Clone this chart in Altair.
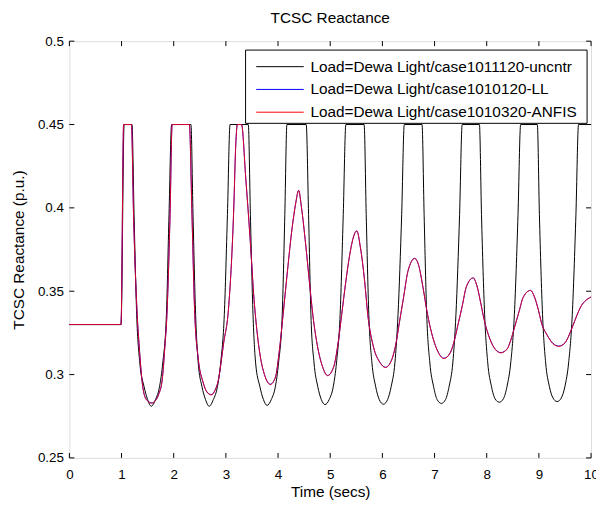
import altair as alt
import pandas as pd

# ---- data ----
series_names = [
    "Load=Dewa Light/case1011120-uncntr",
    "Load=Dewa Light/case1010120-LL",
    "Load=Dewa Light/case1010320-ANFIS",
]
series_colors = ["#000000", "#0000ff", "#ff0000"]

unc_t = [0, 0.99, 1.05, 1.20, 1.24, 1.29, 1.35, 1.43, 1.50, 1.57, 1.65, 1.73, 1.79, 1.86, 1.91, 1.96,
         2.33, 2.37, 2.42, 2.47, 2.54, 2.61, 2.68, 2.76, 2.84, 2.90, 2.97, 3.03, 3.08,
         3.43, 3.47, 3.52, 3.57, 3.65, 3.72, 3.79, 3.87, 3.95, 4.01, 4.08, 4.13, 4.17,
         4.54, 4.585, 4.63, 4.69, 4.76, 4.83, 4.90, 4.98, 5.06, 5.12, 5.19, 5.25, 5.30,
         5.65, 5.69, 5.74, 5.80, 5.87, 5.94, 6.02, 6.10, 6.17, 6.24, 6.30, 6.37, 6.42,
         6.76, 6.80, 6.85, 6.91, 6.98, 7.05, 7.13, 7.21, 7.28, 7.35, 7.41, 7.48, 7.53,
         7.86, 7.90, 7.96, 8.02, 8.09, 8.16, 8.24, 8.32, 8.39, 8.46, 8.53, 8.60, 8.65,
         8.97, 9.01, 9.07, 9.13, 9.20, 9.27, 9.35, 9.43, 9.50, 9.57, 9.64, 9.71, 9.76, 10.0]
unc_v = [0.33, 0.33, 0.45, 0.45, 0.396, 0.336, 0.307, 0.293, 0.285, 0.281, 0.285, 0.293, 0.307, 0.336, 0.396, 0.45,
         0.45, 0.396, 0.336, 0.307, 0.293, 0.285, 0.281, 0.285, 0.293, 0.307, 0.336, 0.396, 0.45,
         0.45, 0.396, 0.336, 0.307, 0.293, 0.285, 0.2815, 0.285, 0.293, 0.307, 0.336, 0.396, 0.45,
         0.45, 0.396, 0.336, 0.307, 0.293, 0.285, 0.282, 0.285, 0.293, 0.307, 0.336, 0.396, 0.45,
         0.45, 0.396, 0.336, 0.307, 0.293, 0.285, 0.2822, 0.285, 0.293, 0.307, 0.336, 0.396, 0.45,
         0.45, 0.396, 0.336, 0.307, 0.293, 0.285, 0.2827, 0.285, 0.293, 0.307, 0.336, 0.396, 0.45,
         0.45, 0.396, 0.336, 0.307, 0.293, 0.2855, 0.2834, 0.2855, 0.293, 0.307, 0.336, 0.396, 0.45,
         0.45, 0.396, 0.336, 0.307, 0.293, 0.286, 0.2838, 0.286, 0.293, 0.307, 0.336, 0.396, 0.45, 0.45]

ctrl_t = [0, 0.99, 1.04, 1.19, 1.23, 1.30, 1.34, 1.39, 1.44, 1.51, 1.58, 1.65, 1.71, 1.78, 1.83, 1.87, 1.93, 1.97,
          2.30, 2.35, 2.40, 2.47, 2.56, 2.64, 2.72, 2.79, 2.85, 2.96, 3.05, 3.15, 3.19, 3.22,
          3.30, 3.38, 3.47, 3.54, 3.60, 3.67, 3.74, 3.80, 3.85,
          3.95, 4.02, 4.10, 4.18, 4.27, 4.34, 4.395,
          4.45, 4.53, 4.60, 4.67, 4.75, 4.85, 4.95,
          5.07, 5.14, 5.22, 5.30, 5.38, 5.45, 5.51,
          5.58, 5.66, 5.72, 5.83, 5.95, 6.06,
          6.18, 6.25, 6.33, 6.41, 6.49, 6.62,
          6.70, 6.78, 6.86, 6.96, 7.07, 7.18,
          7.30, 7.37, 7.45, 7.53, 7.61, 7.74,
          7.81, 7.89, 7.95, 8.06, 8.17, 8.27,
          8.39, 8.46, 8.54, 8.62, 8.70, 8.84,
          8.91, 8.99, 9.05, 9.16, 9.27, 9.38,
          9.50, 9.57, 9.65, 9.73, 9.81, 9.90, 10.0]
ll_v = [0.33, 0.33, 0.45, 0.45, 0.396, 0.336, 0.3165, 0.297, 0.2875, 0.2840, 0.2830, 0.2845, 0.288, 0.297, 0.3165, 0.336, 0.396, 0.45,
        0.45, 0.396, 0.339, 0.3096, 0.2957, 0.2895, 0.2880, 0.2905, 0.2959, 0.3195, 0.3393, 0.3987, 0.4382, 0.45,
        0.45, 0.4184, 0.3789, 0.345, 0.325, 0.309, 0.300, 0.2955, 0.2942,
        0.2985, 0.313, 0.337, 0.362, 0.388, 0.403, 0.4105,
        0.400, 0.378, 0.356, 0.335, 0.318, 0.305, 0.2995,
        0.305, 0.3165, 0.336, 0.356, 0.373, 0.383, 0.3862,
        0.376, 0.356, 0.336, 0.3165, 0.3075, 0.3044,
        0.309, 0.317, 0.332, 0.347, 0.362, 0.3697,
        0.365, 0.352, 0.337, 0.323, 0.3135, 0.3098,
        0.313, 0.3193, 0.330, 0.341, 0.3527, 0.358,
        0.3535, 0.3422, 0.333, 0.3215, 0.3150, 0.3132,
        0.3154, 0.3205, 0.3291, 0.3378, 0.3464, 0.3505,
        0.347, 0.3388, 0.331, 0.3236, 0.3187, 0.3171,
        0.319, 0.323, 0.3292, 0.3356, 0.3411, 0.3445, 0.3465]
anfis_v = [0.33, 0.33, 0.45, 0.45, 0.396, 0.336, 0.3165, 0.297, 0.2875, 0.2838, 0.2828, 0.2843, 0.288, 0.297, 0.3165, 0.336, 0.396, 0.45,
           0.45, 0.396, 0.339, 0.3096, 0.2957, 0.2893, 0.2878, 0.2903, 0.2959, 0.3195, 0.3393, 0.3987, 0.4382, 0.45,
           0.45, 0.4184, 0.3789, 0.345, 0.325, 0.309, 0.300, 0.2953, 0.2940,
           0.2983, 0.313, 0.337, 0.362, 0.388, 0.403, 0.4105,
           0.400, 0.378, 0.356, 0.335, 0.318, 0.305, 0.2993,
           0.305, 0.3165, 0.336, 0.356, 0.373, 0.383, 0.3862,
           0.376, 0.356, 0.336, 0.3165, 0.3073, 0.3042,
           0.309, 0.317, 0.332, 0.347, 0.362, 0.3697,
           0.365, 0.352, 0.337, 0.323, 0.3133, 0.3096,
           0.313, 0.3193, 0.330, 0.341, 0.3527, 0.358,
           0.3535, 0.3422, 0.333, 0.3213, 0.3148, 0.3130,
           0.3152, 0.3205, 0.3291, 0.3378, 0.3464, 0.3505,
           0.347, 0.3388, 0.331, 0.3236, 0.3185, 0.3169,
           0.319, 0.323, 0.3292, 0.3356, 0.3411, 0.3445, 0.3465]

x_ticks = [0, 1, 2, 3, 4, 5, 6, 7, 8, 9, 10]
y_ticks = [0.25, 0.3, 0.35, 0.4, 0.45, 0.5]

# ---- build table ----
rows = []
for t, v in zip(unc_t, unc_v):
    rows.append({"series": series_names[0], "t": t, "v": v})
for t, v in zip(ctrl_t, ll_v):
    rows.append({"series": series_names[1], "t": t, "v": v})
for t, v in zip(ctrl_t, anfis_v):
    rows.append({"series": series_names[2], "t": t, "v": v})
df = pd.DataFrame(rows)

W, H = 527, 421
FONT = "Liberation Sans"
TICK_FS = 13.5
TXT_FS = 15.5

xs = alt.Scale(domain=[0, 10], nice=False, zero=False)
ys = alt.Scale(domain=[0.25, 0.5], nice=False, zero=False)
color = alt.Color(
    "series:N",
    scale=alt.Scale(domain=series_names, range=series_colors),
    sort=series_names,
    legend=alt.Legend(
        orient="none", legendX=178, legendY=9, title=None,
        symbolType="M-1,0H7", symbolSize=144, symbolStrokeWidth=1,
        symbolFillColor="transparent", symbolOpacity=1,
        strokeColor="transparent", fillColor="transparent", padding=9,
        labelFont=FONT, labelFontSize=TXT_FS, labelColor="black", labelLimit=0,
        labelOffset=41, rowPadding=6, cornerRadius=0,
    ),
)

def series_layer(name, opacity):
    return alt.Chart(df).transform_filter(
        alt.datum.series == name
    ).mark_line(interpolate="monotone", strokeWidth=1, opacity=opacity).encode(
        x=alt.X("t:Q", scale=xs, axis=alt.Axis(
            values=x_ticks, title="Time (secs)", ticks=False, domain=False, grid=False,
            labelFlush=False,
            labelFont=FONT, labelFontSize=TICK_FS, labelColor="black", labelPadding=10,
            titleFont=FONT, titleFontSize=TXT_FS, titleFontWeight="normal", titleColor="black",
            titlePadding=3)),
        y=alt.Y("v:Q", scale=ys, axis=alt.Axis(
            values=y_ticks, format=".2~f", title="TCSC Reactance  (p.u.)", ticks=False,
            domain=False, grid=False, labelFlush=False,
            labelFont=FONT, labelFontSize=TICK_FS, labelColor="black", labelPadding=6,
            titleFont=FONT, titleFontSize=TXT_FS, titleFontWeight="normal", titleColor="black",
            titlePadding=11)),
        color=color,
    )

xt = pd.DataFrame({"t": x_ticks})
yt = pd.DataFrame({"v": y_ticks})
tick_col = "#000000"
xb = alt.Chart(xt).mark_rule(color=tick_col, strokeWidth=1).encode(
    x=alt.X("t:Q", scale=xs), y=alt.value(H), y2=alt.value(H - 5))
xtp = alt.Chart(xt).mark_rule(color=tick_col, strokeWidth=1).encode(
    x=alt.X("t:Q", scale=xs), y=alt.value(0), y2=alt.value(5))
yl = alt.Chart(yt).mark_rule(color=tick_col, strokeWidth=1).encode(
    y=alt.Y("v:Q", scale=ys), x=alt.value(0), x2=alt.value(5))
yr = alt.Chart(yt).mark_rule(color=tick_col, strokeWidth=1).encode(
    y=alt.Y("v:Q", scale=ys), x=alt.value(W), x2=alt.value(W - 5))

# legend frame (white box with black border behind the legend entries)
legend_box = alt.Chart(pd.DataFrame({"k": [0]})).mark_rect(
    fill="white", stroke="black", strokeWidth=1
).encode(x=alt.value(178), x2=alt.value(523), y=alt.value(9), y2=alt.value(83))

chart = alt.layer(
    xb, xtp, yl, yr,
    series_layer(series_names[0], 1.0),
    series_layer(series_names[1], 1.0),
    series_layer(series_names[2], 0.85),
    legend_box,
).properties(
    width=W, height=H,
    title=alt.TitleParams("TCSC Reactance", font=FONT, fontSize=TXT_FS, fontWeight="normal",
                          color="black", offset=8),
    autosize=alt.AutoSizeParams(type="none"),
    padding={"left": 62, "top": 31, "right": 5, "bottom": 40},
).configure_view(stroke="black", strokeWidth=1).configure(background="white")

chart.save("out.html", embed_options={"renderer": "svg", "actions": False})
